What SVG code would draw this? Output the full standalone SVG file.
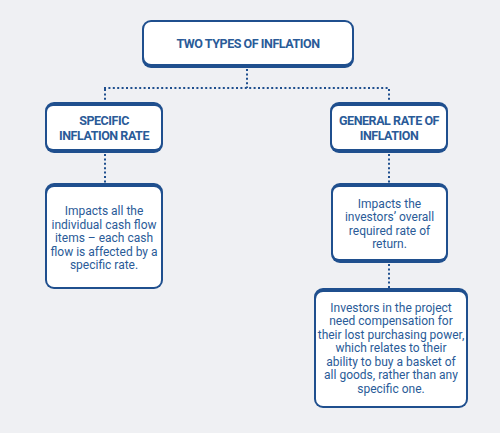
<svg xmlns="http://www.w3.org/2000/svg" width="500" height="433" viewBox="0 0 500 433">
<style>
.bd{fill:#1f4f8e}
.in{fill:#ffffff}
.t{font-family:Roboto,"Open Sans","Liberation Sans",sans-serif;fill:#2a5b98;text-anchor:middle}
.h{font-weight:bold;font-size:12.5px;letter-spacing:-0.45px}
.b{font-size:12px}
.dot{fill:none;stroke:#1f4f8e;stroke-width:2;stroke-dasharray:2 2.4}
</style>
<rect width="500" height="433" fill="#eff0f3"/>
<g id="connectors">
<path class="dot" d="M247 69V88"/>
<path class="dot" d="M104 88H389"/>
<path class="dot" d="M105 89V102"/>
<path class="dot" d="M389 89V102"/>
<path class="dot" d="M105 154V183"/>
<path class="dot" d="M389 154V183"/>
<path class="dot" d="M389 264V288"/>
</g>
<g id="top">
<rect class="bd" x="142" y="20" width="212" height="48" rx="9"/>
<rect class="in" x="144" y="22" width="208" height="42" rx="7"/>
<text class="t h" x="248" y="48">TWO TYPES OF INFLATION</text>
</g>
<g id="specific">
<rect class="bd" x="45" y="102" width="118" height="51" rx="9"/>
<rect class="in" x="47" y="106" width="114" height="43" rx="6"/>
<text class="t h" x="104" y="125">SPECIFIC</text>
<text class="t h" x="104" y="139.5">INFLATION RATE</text>
</g>
<g id="general">
<rect class="bd" x="330" y="102" width="118" height="51" rx="9"/>
<rect class="in" x="332" y="106" width="114" height="43" rx="6"/>
<text class="t h" x="389" y="125">GENERAL RATE OF</text>
<text class="t h" x="389" y="139.5">INFLATION</text>
</g>
<g id="specific-desc">
<rect class="bd" x="45" y="183" width="118" height="106" rx="9"/>
<rect class="in" x="47" y="187" width="114" height="100" rx="7"/>
<text class="t b" x="104" y="215">Impacts all the</text>
<text class="t b" x="104" y="228.5">individual cash flow</text>
<text class="t b" x="104" y="242">items – each cash</text>
<text class="t b" x="104" y="255.5">flow is affected by a</text>
<text class="t b" x="104" y="269">specific rate.</text>
</g>
<g id="general-desc">
<rect class="bd" x="331" y="183" width="117" height="80" rx="9"/>
<rect class="in" x="333" y="187" width="113" height="72" rx="6"/>
<text class="t b" x="389.5" y="207.5">Impacts the</text>
<text class="t b" x="389.5" y="221">investors’ overall</text>
<text class="t b" x="389.5" y="234.5">required rate of</text>
<text class="t b" x="389.5" y="248">return.</text>
</g>
<g id="investors">
<rect class="bd" x="314" y="288" width="154" height="120" rx="9"/>
<rect class="in" x="316" y="292" width="150" height="114" rx="7"/>
<text class="t b" x="391" y="311.5">Investors in the project</text>
<text class="t b" x="391" y="325">need compensation for</text>
<text class="t b" x="391" y="338.5">their lost purchasing power,</text>
<text class="t b" x="391" y="352">which relates to their</text>
<text class="t b" x="391" y="365.5">ability to buy a basket of</text>
<text class="t b" x="391" y="379">all goods, rather than any</text>
<text class="t b" x="391" y="392.5">specific one.</text>
</g>
</svg>
